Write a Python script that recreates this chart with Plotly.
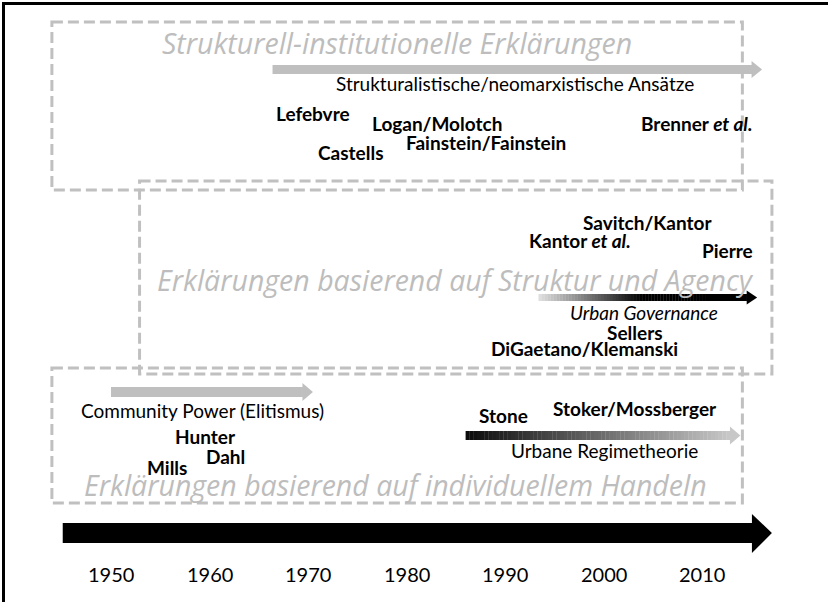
import plotly.graph_objects as go

# ---------------- data ----------------
decade_ticks = [1950, 1960, 1970, 1980, 1990, 2000, 2010]
tick_labels = ["1950", "1960", "1970", "1980", "1990", "2000", "2010"]

timeline_start, timeline_end = 1945.1, 2017.1

# approaches: (label, start year, end year)
approach_names = ["Strukturalistische/neomarxistische Ansätze", "Community Power (Elitismus)",
                  "Urban Governance", "Urbane Regimetheorie"]
approach_start = [1966.4, 1950.0, 1993.4, 1986.0]
approach_end = [2016.1, 1970.5, 2015.6, 2013.9]
approach_label_x = [1991.0, 1959.3, 2004.1, 2000.1]

# authors (name, year position)
author_names = ["Lefebvre", "Logan/Molotch", "Castells", "Fainstein/Fainstein", "Brenner <i>et al.</i>",
                "Savitch/Kantor", "Kantor <i>et al.</i>", "Pierre", "Sellers", "DiGaetano/Klemanski",
                "Hunter", "Dahl", "Mills", "Stone", "Stoker/Mossberger"]
author_years = [1970.5, 1983.1, 1974.4, 1988.1, 2009.4,
                2004.5, 1997.6, 2012.6, 2003.2, 1998.1,
                1959.6, 1961.6, 1955.7, 1989.8, 2003.2]

# explanation groups (title, box from/to year, title x)
group_titles = ["Strukturell-institutionelle Erklärungen",
                "Erklärungen basierend auf Struktur und Agency",
                "Erklärungen basierend auf individuellem Handeln"]
group_box_start = [1944.0, 1952.9, 1944.0]
group_box_end = [2014.1, 2017.1, 2014.1]
group_title_x = [1979.0, 1985.0, 1978.9]

# ---------------- layout positions (pixels, y down) ----------------
W, H = 828, 602
PX_PER_YEAR = 9.85
X0 = 1950 - 111 / PX_PER_YEAR
X1 = X0 + W / PX_PER_YEAR

GRAY = "#c0c0c0"
TXTGRAY = "#bdbdbd"
LATO = "Lato, Carlito, Calibri, sans-serif"
TITLEFONT = "Open Sans, sans-serif"
NAME_SIZE = 19
LABEL_SIZE = 19
TITLE_SIZE = 28.5
YEAR_SIZE = 20

box_y = [(22, 190), (181, 374), (368, 503)]
title_y = [43, 280, 485]
approach_y = [69.5, 392, 297.5, 435.5]       # arrow centre line
approach_half = [4.5, 5, 3.5, 4.5]           # body half thickness
approach_head_half = [8.5, 9, 7, 9]
approach_head_len = 10.5
approach_label_y = [83, 410, 312, 450]
author_y = [113, 123, 152, 142, 123, 222, 240, 250, 332, 348, 436, 456, 467, 415, 408]

shapes = []
annotations = []

def yrs(px):
    return px / PX_PER_YEAR

def hexgray(v):
    v = max(0, min(255, int(round(v))))
    return "#%02x%02x%02x" % (v, v, v)

# outer frame (top + left)
shapes.append(dict(type="line", xref="paper", yref="paper", x0=0.004, x1=1.0, y0=1 - 3.5 / H, y1=1 - 3.5 / H,
                   line=dict(color="black", width=3)))
shapes.append(dict(type="line", xref="paper", yref="paper", x0=3.5 / W, x1=3.5 / W, y0=0, y1=1 - 2 / H,
                   line=dict(color="black", width=3)))

# dashed group boxes
for i in range(3):
    shapes.append(dict(type="rect", xref="x", yref="y", x0=group_box_start[i], x1=group_box_end[i],
                       y0=box_y[i][0], y1=box_y[i][1],
                       line=dict(color=GRAY, width=3, dash="11px,5px"), fillcolor="rgba(0,0,0,0)",
                       layer="below"))
    annotations.append(dict(x=group_title_x[i], y=title_y[i], xref="x", yref="y", text="<i>%s</i>" % group_titles[i],
                            showarrow=False, xanchor="center", yanchor="middle", borderpad=0,
                            font=dict(family=TITLEFONT, size=TITLE_SIZE, color=TXTGRAY)))

# main timeline arrow
shapes.append(dict(type="path", xref="x", yref="y", fillcolor="black", line=dict(width=0),
                   path="M %f,523 L %f,523 L %f,514 L %f,533 L %f,553 L %f,543 L %f,543 Z" % (
                       timeline_start, timeline_end - yrs(20), timeline_end - yrs(20), timeline_end,
                       timeline_end - yrs(20), timeline_end - yrs(20), timeline_start)))

# approach arrows
def color_at(i, t):
    if i == 0 or i == 1:
        return "#bfbfbf"
    if i == 2:  # light -> black, black reached at ~half
        return hexgray(225 * max(0.0, 1 - t / 0.5))
    return hexgray(10 + 190 * t)  # black -> light

for i in range(4):
    xs, xe = approach_start[i], approach_end[i]
    hx = xe - yrs(approach_head_len)
    yc, hh, ah = approach_y[i], approach_half[i], approach_head_half[i]
    if i < 2:
        shapes.append(dict(type="rect", xref="x", yref="y", x0=xs, x1=hx + 0.05, y0=yc - hh, y1=yc + hh,
                           fillcolor=color_at(i, 0), line=dict(width=0)))
    else:
        n = 70
        for k in range(n):
            a = xs + (hx - xs) * k / n
            b = xs + (hx - xs) * (k + 1) / n + 0.03
            shapes.append(dict(type="rect", xref="x", yref="y", x0=a, x1=b, y0=yc - hh, y1=yc + hh,
                               fillcolor=color_at(i, (k + 0.5) / n), line=dict(width=0)))
    shapes.append(dict(type="path", xref="x", yref="y", fillcolor=color_at(i, 1.0), line=dict(width=0),
                       path="M %f,%f L %f,%f L %f,%f Z" % (hx, yc - ah, xe, yc, hx, yc + ah)))
    label = approach_names[i]
    if i == 2:
        label = "<i>%s</i>" % label
    annotations.append(dict(x=approach_label_x[i], y=approach_label_y[i], xref="x", yref="y", text=label,
                            showarrow=False, xanchor="center", yanchor="middle", borderpad=0,
                            font=dict(family=LATO, size=LABEL_SIZE, color="black")))

# authors
for name, yr, yy in zip(author_names, author_years, author_y):
    annotations.append(dict(x=yr, y=yy, xref="x", yref="y", text="<b>%s</b>" % name,
                            showarrow=False, xanchor="center", yanchor="middle", borderpad=0,
                            font=dict(family=LATO, size=NAME_SIZE, color="black")))

# year tick labels
for yr, lab in zip(decade_ticks, tick_labels):
    annotations.append(dict(x=yr, y=574, xref="x", yref="y", text=lab, showarrow=False,
                            xanchor="center", yanchor="middle", borderpad=0,
                            font=dict(family=LATO, size=YEAR_SIZE, color="black")))

fig = go.Figure()
fig.add_trace(go.Scatter(x=[X0, X1], y=[0, H], mode="markers", marker=dict(opacity=0), hoverinfo="skip",
                         showlegend=False))
fig.update_layout(
    width=W, height=H, margin=dict(l=0, r=0, t=0, b=0),
    paper_bgcolor="white", plot_bgcolor="white",
    xaxis=dict(range=[X0, X1], visible=False, fixedrange=True),
    yaxis=dict(range=[H, 0], visible=False, fixedrange=True),
    shapes=shapes, annotations=annotations, showlegend=False,
)
fig.write_html("out.html", config={"displayModeBar": False},
               post_script="document.body.style.margin='0';document.body.style.overflow='hidden';")
